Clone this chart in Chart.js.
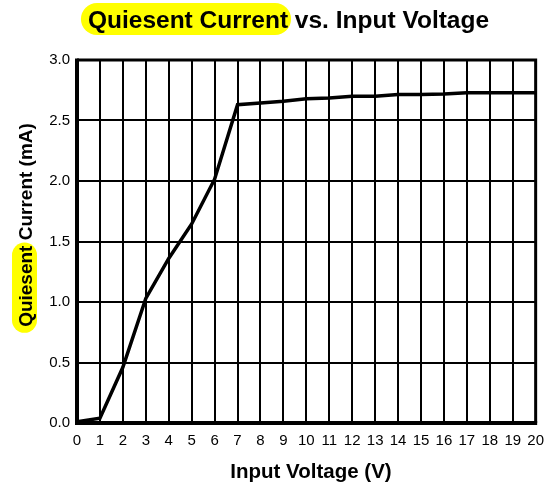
<!DOCTYPE html>
<html>
<head>
<meta charset="utf-8">
<script src="https://cdn.jsdelivr.net/npm/chart.js@4/dist/chart.umd.min.js"></script>
<style>
  html, body { margin: 0; padding: 0; background: #fff; }
  #wrap { width: 553px; height: 486px; }
</style>
</head>
<body>
<div id="wrap"><canvas id="chart" width="553" height="486"></canvas></div>
<script>
// --- Data ---
const voltages = [0, 1, 2, 3, 4, 5, 6, 7, 8, 9, 10, 11, 12, 13, 14, 15, 16, 17, 18, 19, 20];
const currents = [0.01, 0.04, 0.46, 1.03, 1.36, 1.645, 2.015, 2.63, 2.645, 2.66, 2.68, 2.685, 2.70, 2.70, 2.715, 2.715, 2.72, 2.73, 2.73, 2.73, 2.73];

const FONT = 'Arial, "Liberation Sans", sans-serif';

// yellow marker pill behind part of a label
function highlight(ctx, x, y, w, h) {
    const r = h / 2;
    ctx.save();
    ctx.fillStyle = '#ffff00';
    ctx.beginPath();
    ctx.moveTo(x + r, y);
    ctx.lineTo(x + w - r, y);
    ctx.arc(x + w - r, y + r, r, -Math.PI / 2, Math.PI / 2);
    ctx.lineTo(x + r, y + h);
    ctx.arc(x + r, y + r, r, Math.PI / 2, Math.PI * 1.5);
    ctx.fill();
    ctx.restore();
}

const titles = {
    id: 'titles',
    afterDraw(chart) {
        const ctx = chart.ctx;
        const area = chart.chartArea;

        // main title
        ctx.save();
        ctx.font = 'bold 24.5px ' + FONT;
        ctx.textBaseline = 'alphabetic';
        const hl = 'Quiesent Current';
        const rest = ' vs. Input Voltage';
        const w1 = ctx.measureText(hl).width;
        const w2 = ctx.measureText(rest).width;
        const x0 = 288.5 - (w1 + w2) / 2;
        highlight(ctx, x0 - 7, 3, w1 + 10, 32);
        ctx.fillStyle = '#000';
        ctx.fillText(hl, x0, 28);
        ctx.fillText(rest, x0 + w1, 28);
        ctx.restore();

        // y axis title
        ctx.save();
        ctx.translate(25, 225);
        ctx.rotate(-Math.PI / 2);
        ctx.font = 'bold 19px ' + FONT;
        ctx.textBaseline = 'alphabetic';
        const yHl = 'Quiesent';
        const yRest = ' Current (mA)';
        const yw1 = ctx.measureText(yHl).width;
        const yw2 = ctx.measureText(yRest).width;
        const yx0 = -(yw1 + yw2) / 2;
        highlight(ctx, yx0 - 6, -13, yw1 + 9, 25);
        ctx.fillStyle = '#000';
        ctx.fillText(yHl, yx0, 7);
        ctx.fillText(yRest, yx0 + yw1, 7);
        ctx.restore();

        // x axis title
        ctx.save();
        ctx.font = 'bold 20.5px ' + FONT;
        ctx.textAlign = 'center';
        ctx.textBaseline = 'alphabetic';
        ctx.fillStyle = '#000';
        ctx.fillText('Input Voltage (V)', 311, 478);
        ctx.restore();

        // heavy frame
        ctx.save();
        ctx.strokeStyle = '#000';
        ctx.lineWidth = 3;
        ctx.beginPath();
        ctx.moveTo(area.left, area.top);
        ctx.lineTo(area.right, area.top);
        ctx.lineTo(area.right, area.bottom);
        ctx.stroke();
        ctx.lineWidth = 4;
        ctx.beginPath();
        ctx.moveTo(area.left, area.top - 1.5);
        ctx.lineTo(area.left, area.bottom);
        ctx.lineTo(area.right + 1.5, area.bottom);
        ctx.stroke();
        ctx.restore();
    }
};

new Chart(document.getElementById('chart'), {
    type: 'line',
    data: {
        datasets: [{
            data: voltages.map((v, i) => ({ x: v, y: currents[i] })),
            borderColor: '#000',
            borderWidth: 3.5,
            pointRadius: 0,
            tension: 0,
            fill: false
        }]
    },
    options: {
        responsive: false,
        animation: false,
        layout: { padding: { top: 60, right: 13, left: 0, bottom: 0 } },
        plugins: { legend: { display: false }, tooltip: { enabled: false }, title: { display: false } },
        scales: {
            x: {
                type: 'linear',
                min: 0,
                max: 20,
                afterFit: s => { s.height = 63; },
                ticks: {
                    stepSize: 1,
                    color: '#000',
                    font: { family: FONT, size: 15 },
                    padding: 9,
                    maxRotation: 0,
                    autoSkip: false
                },
                grid: { color: '#000', lineWidth: 2, drawTicks: false },
                border: { display: false }
            },
            y: {
                min: 0,
                max: 3,
                afterFit: s => { s.width = 77; },
                ticks: {
                    stepSize: 0.5,
                    color: '#000',
                    font: { family: FONT, size: 15 },
                    padding: 7,
                    callback: v => v.toFixed(1)
                },
                grid: { color: '#000', lineWidth: 2, drawTicks: false },
                border: { display: false }
            }
        }
    },
    plugins: [titles]
});
</script>
</body>
</html>
